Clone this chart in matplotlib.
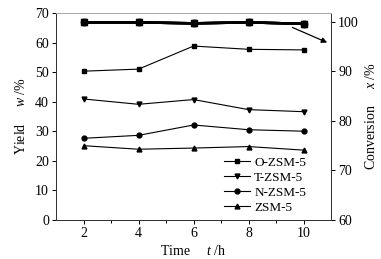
import matplotlib
matplotlib.use("Agg")
import matplotlib.pyplot as plt

plt.rcParams.update({
    "font.family": ["Liberation Serif", "DejaVu Serif"],
    "font.size": 10,
    "mathtext.fontset": "custom",
    "mathtext.rm": "Liberation Serif",
    "mathtext.it": "Liberation Serif:italic",
})

time_h = [2, 4, 6, 8, 10]
names = ["O-ZSM-5", "T-ZSM-5", "N-ZSM-5", "ZSM-5"]
markers = ["s", "v", "o", "^"]

# yield w / % (left axis)
yield_o = [50.3, 51.0, 58.8, 57.7, 57.5]
yield_t = [40.9, 39.1, 40.7, 37.3, 36.6]
yield_n = [27.6, 28.6, 32.1, 30.5, 30.0]
yield_z = [25.1, 23.9, 24.3, 24.8, 23.6]

# conversion x / % (right axis), curves overlap near 100 %
conv_o = [99.9, 99.9, 99.7, 99.9, 99.6]
conv_t = [99.9, 99.9, 99.7, 99.9, 99.6]
conv_n = [99.9, 99.9, 99.7, 99.9, 99.6]
conv_z = [99.9, 99.9, 99.7, 99.9, 99.6]

yields = [yield_o, yield_t, yield_n, yield_z]
convs = [conv_o, conv_t, conv_n, conv_z]

fig = plt.figure(figsize=(3.81, 2.59), dpi=100)
ax = fig.add_axes([0.147, 0.151, 0.722, 0.799])
ax2 = ax.twinx()

for ys, m, name in zip(yields, markers, names):
    ax.plot(time_h, ys, color="black", marker=m, ms=3.5, lw=0.8, label=name)

# circles sit on top of the overlapping conversion curves
for cs, m in zip(convs, markers):
    ax2.plot(time_h, cs, color="black", marker=m, ms=4.5, lw=1.8,
             zorder=3 if m == "o" else 2)

ax.set_xlim(1, 11)
ax.set_ylim(0, 70)
ax2.set_ylim(60, 101.8)
ax.set_xticks([2, 4, 6, 8, 10])
ax.set_xticks([3, 5, 7, 9], minor=True)
ax.set_yticks(range(0, 71, 10))
ax2.set_yticks([60, 70, 80, 90, 100])

for a in (ax, ax2):
    a.tick_params(direction="out", length=3, width=0.7, pad=2)
    a.tick_params(which="minor", length=2, width=0.7)
    for s in a.spines.values():
        s.set_linewidth(0.7)
        s.set_color("#333333")
ax2.spines["top"].set_color("#aaaaaa")
ax.spines["top"].set_color("#aaaaaa")

ax.set_xlabel("Time     $t$ /h", labelpad=3)
ax.set_ylabel("Yield     $w$ /%", labelpad=5)
ax2.set_ylabel("Conversion     $x$ /%", labelpad=4)

ax2.annotate("", xy=(10.95, 95.6), xytext=(9.5, 99.1),
             arrowprops=dict(arrowstyle="-|>", color="black", lw=0.9,
                             mutation_scale=8))

ax.legend(loc="upper left", bbox_to_anchor=(0.61, 0.305), frameon=False,
          fontsize=9.5, handlelength=2.0, labelspacing=0.2,
          handletextpad=0.3, borderaxespad=0, borderpad=0)

fig.savefig("out.png", dpi=100)
